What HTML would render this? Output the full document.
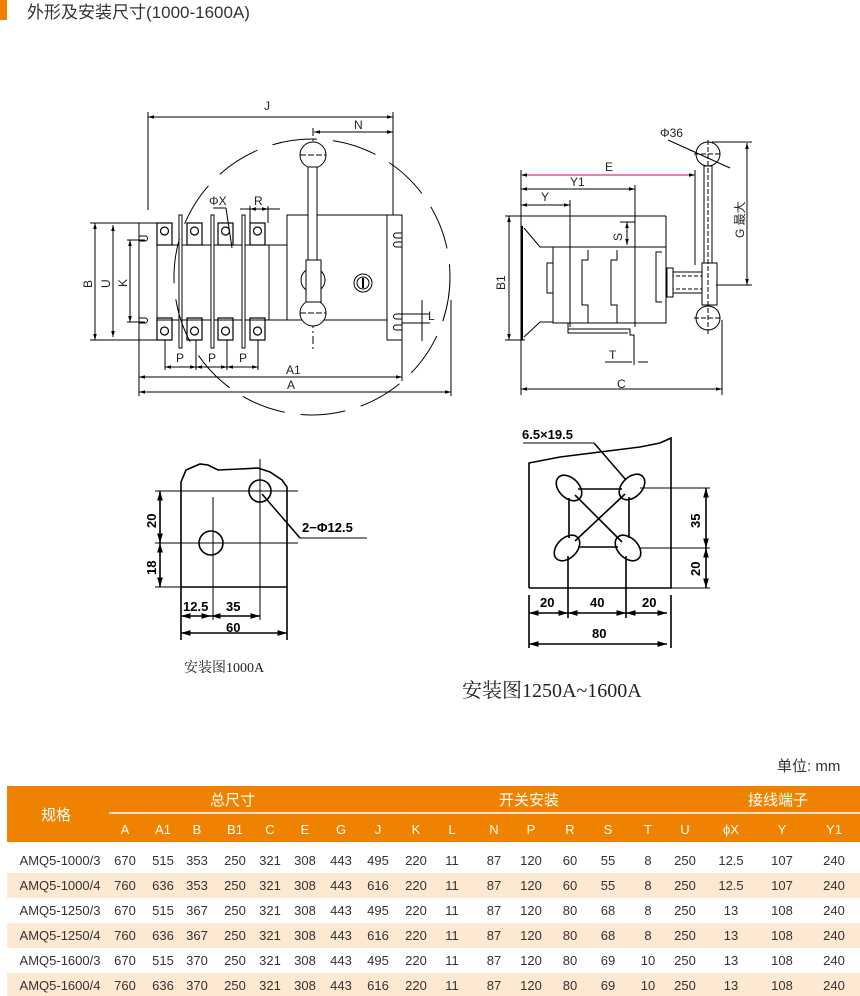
<!DOCTYPE html>
<html><head><meta charset="utf-8"><style>
body{margin:0;background:#fff;width:860px;height:996px;overflow:hidden;font-family:"Liberation Sans","Noto Sans CJK SC",sans-serif}
svg{position:absolute;left:0;top:0}
</style></head><body>
<svg width="860" height="996" viewBox="0 0 860 996" xmlns="http://www.w3.org/2000/svg" font-family="Liberation Sans, Noto Sans CJK SC, sans-serif">
<defs>
<marker id="ar" viewBox="0 0 10 10" refX="10" refY="5" markerWidth="6" markerHeight="6" orient="auto-start-reverse"><path d="M0,2 L10,5 L0,8z" fill="#000"/></marker>
</defs>
<rect x="0" y="0" width="7" height="20" fill="#ef7f00"/>
<text x="27" y="18" font-size="17" fill="#333">外形及安装尺寸(1000-1600A)</text>

<g stroke="#000" stroke-width="1" fill="none">
<line x1="148" y1="117" x2="393" y2="117" marker-start="url(#ar)" marker-end="url(#ar)"/>
<line x1="148" y1="112" x2="148" y2="210"/>
<line x1="314" y1="132" x2="393" y2="132" marker-start="url(#ar)" marker-end="url(#ar)"/>
<line x1="393" y1="112" x2="393" y2="215"/>
<rect x="139" y="223" width="18" height="117"/>
<rect x="157" y="245" width="112" height="75"/>
<line x1="269" y1="245" x2="287" y2="245"/><line x1="269" y1="320" x2="287" y2="320"/>
<rect x="287" y="215" width="100" height="105"/>
<path d="M387 215 H402 V340 H387 V320"/>
<g stroke-width="1.2">
<rect x="157" y="223" width="15" height="22"/><rect x="187" y="223" width="15" height="22"/><rect x="218" y="223" width="15" height="22"/><rect x="250" y="223" width="15" height="22"/>
<rect x="157" y="318" width="15" height="22"/><rect x="187" y="318" width="15" height="22"/><rect x="218" y="318" width="15" height="22"/><rect x="250" y="318" width="15" height="22"/>
<circle cx="164.5" cy="231" r="4"/><circle cx="194.5" cy="231" r="4"/><circle cx="225.5" cy="231" r="4"/><circle cx="257.5" cy="231" r="4"/>
<circle cx="164.5" cy="331" r="4"/><circle cx="194.5" cy="331" r="4"/><circle cx="225.5" cy="331" r="4"/><circle cx="257.5" cy="331" r="4"/>
</g>
<rect x="179" y="215" width="3" height="133" fill="#fff"/><rect x="211" y="215" width="3" height="133" fill="#fff"/><rect x="242" y="215" width="3" height="133" fill="#fff"/>
<path d="M139 236 h6 a2.5 2.5 0 0 1 0 5 h-6 M139 318 h6 a2.5 2.5 0 0 1 0 5 h-6"/>
<path d="M402 233 h-6 a2.5 2.5 0 0 0 0 5 h6 M402 242 h-6 a2.5 2.5 0 0 0 0 5 h6 M402 314 h-6 a2.5 2.5 0 0 0 0 5 h6 M402 325 h-6 a2.5 2.5 0 0 0 0 5 h6"/>
<circle cx="312" cy="277" r="138" stroke-dasharray="45 16"/>
<line x1="313" y1="128" x2="313" y2="352" stroke-dasharray="8 3 2 3"/>
<circle cx="313" cy="155" r="13" fill="#fff"/>
<circle cx="313" cy="280" r="12" fill="#fff"/>
<circle cx="313" cy="313" r="13" fill="#fff"/>
<rect x="308" y="167" width="9" height="93" fill="#fff"/>
<rect x="306" y="260" width="15" height="42" fill="#fff"/>
<line x1="300" y1="155" x2="326" y2="155" stroke-dasharray="6 2"/>
<line x1="300" y1="313" x2="326" y2="313" stroke-dasharray="6 2"/>
<circle cx="363" cy="283" r="9"/><circle cx="363" cy="283" r="6"/><line x1="363" y1="278" x2="363" y2="288" stroke-width="2"/>
<line x1="95" y1="223" x2="95" y2="340" marker-start="url(#ar)" marker-end="url(#ar)"/>
<line x1="90" y1="223" x2="139" y2="223"/><line x1="90" y1="340" x2="157" y2="340"/>
<line x1="113" y1="225" x2="113" y2="337" marker-start="url(#ar)" marker-end="url(#ar)"/>
<line x1="130" y1="240" x2="130" y2="322" marker-start="url(#ar)" marker-end="url(#ar)"/>
<line x1="127" y1="240" x2="145" y2="240"/><line x1="127" y1="322" x2="145" y2="322"/>
<line x1="165" y1="340" x2="165" y2="370"/><line x1="196" y1="340" x2="196" y2="370"/><line x1="227" y1="340" x2="227" y2="370"/><line x1="258" y1="340" x2="258" y2="370"/>
<line x1="165" y1="367" x2="196" y2="367" marker-start="url(#ar)" marker-end="url(#ar)"/>
<line x1="196" y1="367" x2="227" y2="367" marker-start="url(#ar)" marker-end="url(#ar)"/>
<line x1="227" y1="367" x2="258" y2="367" marker-start="url(#ar)" marker-end="url(#ar)"/>
<line x1="139" y1="340" x2="139" y2="396"/><line x1="402" y1="340" x2="402" y2="381"/><line x1="451" y1="300" x2="451" y2="396"/>
<line x1="139" y1="377" x2="402" y2="377" marker-start="url(#ar)" marker-end="url(#ar)"/>
<line x1="139" y1="392" x2="451" y2="392" marker-start="url(#ar)" marker-end="url(#ar)"/>
<line x1="250" y1="209" x2="268" y2="209" marker-start="url(#ar)" marker-end="url(#ar)"/>
<line x1="240" y1="209" x2="280" y2="209"/><line x1="250" y1="206" x2="250" y2="223"/><line x1="268" y1="206" x2="268" y2="223"/>
<line x1="213" y1="208" x2="226" y2="208"/><line x1="226" y1="208" x2="232" y2="248"/>
<line x1="422" y1="300" x2="422" y2="341"/><line x1="402" y1="314" x2="430" y2="314"/><line x1="402" y1="323" x2="430" y2="323"/>

<line x1="521" y1="170" x2="521" y2="395"/>
<line x1="521" y1="175" x2="695" y2="175" marker-start="url(#ar)" marker-end="url(#ar)" stroke="#c06"/>
<line x1="521" y1="189" x2="635" y2="189" marker-start="url(#ar)" marker-end="url(#ar)"/>
<line x1="521" y1="205" x2="570" y2="205" marker-start="url(#ar)" marker-end="url(#ar)"/>
<line x1="570" y1="200" x2="570" y2="327"/><line x1="635" y1="185" x2="635" y2="327"/><line x1="695" y1="170" x2="695" y2="265"/>
<line x1="505" y1="216" x2="666" y2="216"/><line x1="505" y1="340" x2="525" y2="340"/>
<line x1="509" y1="216" x2="509" y2="340" marker-start="url(#ar)" marker-end="url(#ar)"/>
<path d="M524 228 L540 247 L553 247 M524 337 L540 322 L553 322"/>
<line x1="522" y1="226" x2="522" y2="340" stroke-width="2"/>
<path d="M666 216 V323 H553 V247 H666"/>
<path d="M553 263 h-6 v30 h6 M662 252 h-6 v50 h6 M588 250 v10 h-6 v45 h6 v18 M617 250 v10 h-6 v45 h6 v18"/>
<line x1="627" y1="222" x2="627" y2="245" marker-start="url(#ar)" marker-end="url(#ar)"/>
<line x1="620" y1="222" x2="635" y2="222"/>
<path d="M568 323 v6 h62 v6 h4 v30 M568 329 v4 h60"/>
<line x1="605" y1="362" x2="632" y2="362"/><line x1="638" y1="362" x2="648" y2="362"/>
<line x1="521" y1="389" x2="722" y2="389" marker-start="url(#ar)" marker-end="url(#ar)"/>
<line x1="722" y1="320" x2="722" y2="395"/>
<rect x="666" y="272" width="36" height="21" fill="#fff"/>
<line x1="670" y1="276" x2="702" y2="276" stroke-dasharray="4 2"/><line x1="670" y1="289" x2="702" y2="289" stroke-dasharray="4 2"/>
<rect x="667" y="268" width="6" height="29" fill="#fff"/>
<circle cx="708" cy="154" r="12" fill="#fff"/>
<circle cx="708" cy="318" r="12" fill="#fff"/>
<rect x="704" y="166" width="8" height="97" fill="#fff"/>
<rect x="702" y="263" width="15" height="42" fill="#fff"/>
<line x1="708" y1="140" x2="708" y2="335" stroke-dasharray="5 2"/>
<line x1="694" y1="154" x2="722" y2="154" stroke-dasharray="5 2"/>
<line x1="694" y1="318" x2="722" y2="318" stroke-dasharray="5 2"/>
<line x1="668" y1="140" x2="730" y2="168"/>
<line x1="747" y1="143" x2="747" y2="285" marker-start="url(#ar)" marker-end="url(#ar)"/>
<line x1="712" y1="142" x2="752" y2="142"/><line x1="716" y1="285" x2="752" y2="285"/>

<g stroke-width="1.6">
<path d="M181 587 V482 L186 470 L200 464 L208 465 L218 470 L240 469 L258 468 L270 472 L282 480 L287 487 V587 H181"/>
<circle cx="260" cy="491" r="11"/><circle cx="211" cy="543" r="12"/>
<line x1="160" y1="491" x2="160" y2="543" marker-start="url(#ar)" marker-end="url(#ar)"/>
<line x1="160" y1="543" x2="160" y2="587" marker-start="url(#ar)" marker-end="url(#ar)"/>
<line x1="181" y1="616" x2="211" y2="616" marker-start="url(#ar)" marker-end="url(#ar)"/>
<line x1="211" y1="616" x2="260" y2="616" marker-start="url(#ar)" marker-end="url(#ar)"/>
<line x1="181" y1="633" x2="287" y2="633" marker-start="url(#ar)" marker-end="url(#ar)"/>
<line x1="181" y1="587" x2="181" y2="640"/><line x1="287" y1="587" x2="287" y2="640"/>
</g>
<line x1="155" y1="491" x2="298" y2="491"/><line x1="155" y1="543" x2="298" y2="543"/><line x1="155" y1="587" x2="181" y2="587"/>
<line x1="213" y1="497" x2="213" y2="620"/><line x1="260" y1="459" x2="260" y2="620"/>
<line x1="262" y1="494" x2="300" y2="538" stroke-width="1.5"/><line x1="300" y1="538" x2="367" y2="538"/>

<g stroke-width="1.6">
<path d="M529 588 V463 L560 457 L600 452 L640 447 L660 443 L671 438 V588 H529"/>
<g fill="#fff">
<ellipse cx="569" cy="488" rx="15" ry="10" transform="rotate(45 569 488)"/>
<ellipse cx="632" cy="487" rx="15" ry="10" transform="rotate(-45 632 487)"/>
<ellipse cx="567" cy="548" rx="15" ry="10" transform="rotate(-45 567 548)"/>
<ellipse cx="628" cy="548" rx="15" ry="10" transform="rotate(45 628 548)"/>
</g>
<path d="M578 489 H622 M578 547 H618 M569 498 V538 M629 497 V538 M575 495 L622 542 M625 494 L575 541"/>
<line x1="706" y1="488" x2="706" y2="548" marker-start="url(#ar)" marker-end="url(#ar)"/>
<line x1="706" y1="548" x2="706" y2="588" marker-start="url(#ar)" marker-end="url(#ar)"/>
<line x1="529" y1="613" x2="568" y2="613" marker-start="url(#ar)" marker-end="url(#ar)"/>
<line x1="568" y1="613" x2="626" y2="613" marker-start="url(#ar)" marker-end="url(#ar)"/>
<line x1="626" y1="613" x2="667" y2="613" marker-start="url(#ar)" marker-end="url(#ar)"/>
<line x1="529" y1="644" x2="667" y2="644" marker-start="url(#ar)" marker-end="url(#ar)"/>
<line x1="529" y1="595" x2="529" y2="648"/><line x1="671" y1="595" x2="671" y2="648"/>
<line x1="568" y1="556" x2="568" y2="618"/><line x1="626" y1="556" x2="626" y2="618"/>
</g>
<line x1="640" y1="488" x2="710" y2="488"/><line x1="640" y1="548" x2="710" y2="548"/><line x1="671" y1="588" x2="710" y2="588"/>
<line x1="523" y1="443" x2="594" y2="443"/><line x1="594" y1="443" x2="626" y2="480" stroke-width="1.5"/>
</g>

<g font-size="12" fill="#222">
<text x="264" y="110">J</text><text x="354" y="129">N</text>
<text x="209" y="205">ΦX</text><text x="254" y="205">R</text>
<text x="176" y="362">P</text><text x="208" y="362">P</text><text x="239" y="362">P</text>
<text x="286" y="374">A1</text><text x="287" y="389">A</text>
<text x="428" y="320">L</text>
<text transform="translate(92,288) rotate(-90)">B</text>
<text transform="translate(110,288) rotate(-90)">U</text>
<text transform="translate(127,287) rotate(-90)">K</text>
<text x="605" y="171">E</text><text x="570" y="186">Y1</text><text x="541" y="201">Y</text>
<text x="617" y="388">C</text><text x="609" y="359">T</text>
<text x="660" y="137">Φ36</text>
<text transform="translate(505,290) rotate(-90)">B1</text>
<text transform="translate(622,241) rotate(-90)">S</text>
<text transform="translate(744,238) rotate(-90)">G 最大</text>
</g>
<g font-size="13" font-weight="bold" fill="#000">
<text transform="translate(156,528) rotate(-90)">20</text>
<text transform="translate(156,575) rotate(-90)">18</text>
<text x="183" y="611">12.5</text><text x="226" y="611">35</text><text x="226" y="632">60</text>
<text x="302" y="532">2−Φ12.5</text>
<text x="522" y="439">6.5×19.5</text>
<text transform="translate(700,528) rotate(-90)">35</text>
<text transform="translate(700,576) rotate(-90)">20</text>
<text x="540" y="607">20</text><text x="590" y="607">40</text><text x="642" y="607">20</text><text x="592" y="638">80</text>
</g>
<text x="184" y="672" font-size="14" fill="#222" font-family="Liberation Serif, Noto Serif CJK SC, serif">安装图1000A</text>
<text x="462" y="697" font-size="20" fill="#222" font-family="Liberation Serif, Noto Serif CJK SC, serif">安装图1250A~1600A</text>

<text x="777" y="771" font-size="15" fill="#333">单位: mm</text>
<rect x="7" y="786" width="853" height="56" fill="#ef8200"/>
<line x1="109" y1="813" x2="860" y2="813" stroke="#fff" stroke-width="1.5"/>
<g fill="#fff" font-size="15">
<text x="41" y="820">规格</text>
<text x="210" y="805">总尺寸</text>
<text x="499" y="805">开关安装</text>
<text x="748" y="805">接线端子</text>
</g>
<g fill="#fff" font-size="13" text-anchor="middle">
<text x="125" y="834">A</text><text x="163" y="834">A1</text><text x="197" y="834">B</text><text x="235" y="834">B1</text><text x="270" y="834">C</text><text x="305" y="834">E</text><text x="341" y="834">G</text><text x="378" y="834">J</text><text x="416" y="834">K</text><text x="452" y="834">L</text><text x="494" y="834">N</text><text x="531" y="834">P</text><text x="570" y="834">R</text><text x="608" y="834">S</text><text x="648" y="834">T</text><text x="685" y="834">U</text><text x="731" y="834">ϕX</text><text x="782" y="834">Y</text><text x="834" y="834">Y1</text>
</g>
<rect x="7" y="873" width="853" height="25" fill="#fde8d2"/>
<rect x="7" y="923" width="853" height="25" fill="#fde8d2"/>
<rect x="7" y="973" width="853" height="23" fill="#fde8d2"/>
<g fill="#333" font-size="13" text-anchor="middle">
<g transform="translate(0,865)"><text x="60">AMQ5-1000/3</text><text x="125">670</text><text x="163">515</text><text x="197">353</text><text x="235">250</text><text x="270">321</text><text x="305">308</text><text x="341">443</text><text x="378">495</text><text x="416">220</text><text x="452">11</text><text x="494">87</text><text x="531">120</text><text x="570">60</text><text x="608">55</text><text x="648">8</text><text x="685">250</text><text x="731">12.5</text><text x="782">107</text><text x="834">240</text></g>
<g transform="translate(0,890)"><text x="60">AMQ5-1000/4</text><text x="125">760</text><text x="163">636</text><text x="197">353</text><text x="235">250</text><text x="270">321</text><text x="305">308</text><text x="341">443</text><text x="378">616</text><text x="416">220</text><text x="452">11</text><text x="494">87</text><text x="531">120</text><text x="570">60</text><text x="608">55</text><text x="648">8</text><text x="685">250</text><text x="731">12.5</text><text x="782">107</text><text x="834">240</text></g>
<g transform="translate(0,915)"><text x="60">AMQ5-1250/3</text><text x="125">670</text><text x="163">515</text><text x="197">367</text><text x="235">250</text><text x="270">321</text><text x="305">308</text><text x="341">443</text><text x="378">495</text><text x="416">220</text><text x="452">11</text><text x="494">87</text><text x="531">120</text><text x="570">80</text><text x="608">68</text><text x="648">8</text><text x="685">250</text><text x="731">13</text><text x="782">108</text><text x="834">240</text></g>
<g transform="translate(0,940)"><text x="60">AMQ5-1250/4</text><text x="125">760</text><text x="163">636</text><text x="197">367</text><text x="235">250</text><text x="270">321</text><text x="305">308</text><text x="341">443</text><text x="378">616</text><text x="416">220</text><text x="452">11</text><text x="494">87</text><text x="531">120</text><text x="570">80</text><text x="608">68</text><text x="648">8</text><text x="685">250</text><text x="731">13</text><text x="782">108</text><text x="834">240</text></g>
<g transform="translate(0,965)"><text x="60">AMQ5-1600/3</text><text x="125">670</text><text x="163">515</text><text x="197">370</text><text x="235">250</text><text x="270">321</text><text x="305">308</text><text x="341">443</text><text x="378">495</text><text x="416">220</text><text x="452">11</text><text x="494">87</text><text x="531">120</text><text x="570">80</text><text x="608">69</text><text x="648">10</text><text x="685">250</text><text x="731">13</text><text x="782">108</text><text x="834">240</text></g>
<g transform="translate(0,990)"><text x="60">AMQ5-1600/4</text><text x="125">760</text><text x="163">636</text><text x="197">370</text><text x="235">250</text><text x="270">321</text><text x="305">308</text><text x="341">443</text><text x="378">616</text><text x="416">220</text><text x="452">11</text><text x="494">87</text><text x="531">120</text><text x="570">80</text><text x="608">69</text><text x="648">10</text><text x="685">250</text><text x="731">13</text><text x="782">108</text><text x="834">240</text></g>
</g>
</svg>
</body></html>
